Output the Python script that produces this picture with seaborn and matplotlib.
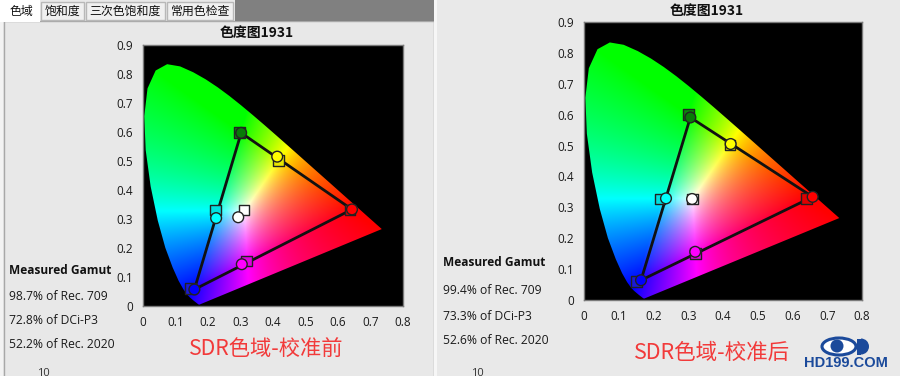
import matplotlib

matplotlib.use("Agg")
import matplotlib.pyplot as plt
import numpy as np
import pandas as pd
import seaborn as sns
from matplotlib.patches import Circle, Ellipse, Polygon, Rectangle, Wedge

W, H = 900, 376
CJK = ["Noto Sans CJK SC", "DejaVu Sans"]
LATIN = ["Open Sans", "DejaVu Sans"]

# CIE 1931 spectral locus, 380-700 nm
LOCUS_X = [0.1741, 0.1733, 0.1714, 0.1689, 0.1644, 0.1566, 0.1440, 0.1355, 0.1241, 0.1096,
           0.0913, 0.0687, 0.0454, 0.0235, 0.0082, 0.0039, 0.0139, 0.0389, 0.0743, 0.1142,
           0.1547, 0.1929, 0.2296, 0.2658, 0.3016, 0.3373, 0.3731, 0.4087, 0.4441, 0.4788,
           0.5125, 0.5448, 0.5752, 0.6029, 0.6270, 0.6482, 0.6658, 0.6915, 0.7079, 0.7190,
           0.7260, 0.7300, 0.7334, 0.7347]
LOCUS_Y = [0.0050, 0.0048, 0.0051, 0.0069, 0.0109, 0.0177, 0.0297, 0.0399, 0.0578, 0.0868,
           0.1327, 0.2007, 0.2950, 0.4127, 0.5384, 0.6548, 0.7502, 0.8120, 0.8338, 0.8262,
           0.8059, 0.7816, 0.7543, 0.7243, 0.6923, 0.6589, 0.6245, 0.5896, 0.5547, 0.5202,
           0.4866, 0.4544, 0.4242, 0.3965, 0.3725, 0.3514, 0.3340, 0.3083, 0.2920, 0.2809,
           0.2740, 0.2700, 0.2666, 0.2653]

X_TICKS = [0, 0.1, 0.2, 0.3, 0.4, 0.5, 0.6, 0.7, 0.8]
Y_TICKS = [0, 0.1, 0.2, 0.3, 0.4, 0.5, 0.6, 0.7, 0.8, 0.9]
X_LABELS = ["0", "0.1", "0.2", "0.3", "0.4", "0.5", "0.6", "0.7", "0.8"]
Y_LABELS = ["0", "0.1", "0.2", "0.3", "0.4", "0.5", "0.6", "0.7", "0.8", "0.9"]

PATCH_NAMES = ["green", "yellow", "red", "cyan", "white", "magenta", "blue"]
SQUARE_COLORS = ["#0a8a0a", "#e8e800", "#e00000", "#00e0e0", "#ffffff", "#e000e0", "#1a1ad8"]
CIRCLE_COLORS = ["#087a08", "#ffff00", "#ff0000", "#00ffff", "#ffffff", "#ff00ff", "#0000ff"]

# targets (squares) and measurements (circles), before calibration
BEFORE_TARGET_X = [0.296, 0.418, 0.637, 0.222, 0.311, 0.319, 0.147]
BEFORE_TARGET_Y = [0.599, 0.503, 0.331, 0.331, 0.331, 0.155, 0.061]
BEFORE_MEAS_X = [0.302, 0.413, 0.643, 0.225, 0.293, 0.304, 0.158]
BEFORE_MEAS_Y = [0.597, 0.515, 0.333, 0.303, 0.306, 0.144, 0.057]

# after calibration
AFTER_TARGET_X = [0.300, 0.420, 0.641, 0.219, 0.313, 0.321, 0.150]
AFTER_TARGET_Y = [0.600, 0.502, 0.328, 0.327, 0.327, 0.150, 0.061]
AFTER_MEAS_X = [0.306, 0.422, 0.658, 0.236, 0.311, 0.320, 0.164]
AFTER_MEAS_Y = [0.591, 0.505, 0.334, 0.329, 0.327, 0.156, 0.064]

BEFORE_STATS = ["98.7% of Rec. 709", "72.8% of DCi-P3", "52.2% of Rec. 2020"]
AFTER_STATS = ["99.4% of Rec. 709", "73.3% of DCi-P3", "52.6% of Rec. 2020"]
TABS = ["色域", "饱和度", "三次色饱和度", "常用色检查"]

RED_LABEL = "#f23a3a"
LOGO_BLUE = "#1b4a9b"


def chroma_image(n=500):
    xs = np.linspace(0, 0.8, n)
    ys = np.linspace(0.001, 0.9, n)
    x, y = np.meshgrid(xs, ys)
    X = x / y
    Z = (1 - x - y) / y
    r = 3.2406 * X - 1.5372 - 0.4986 * Z
    g = -0.9689 * X + 1.8758 + 0.0415 * Z
    b = 0.0557 * X - 0.2040 + 1.0570 * Z
    rgb = np.clip(np.dstack([r, g, b]), 0, None)
    rgb = rgb / np.maximum(rgb.max(axis=2, keepdims=True), 1e-9)
    return rgb ** 0.8


def fig_axes(fig, left, top, right, bottom):
    return fig.add_axes([left / W, 1 - bottom / H, (right - left) / W, (bottom - top) / H])


def draw_gamut(ax, tx, ty, mx, my, img):
    ax.set_facecolor("black")
    im = ax.imshow(img, extent=[0, 0.8, 0.001, 0.9], origin="lower", aspect="auto", zorder=0)
    im.set_clip_path(Polygon(np.column_stack([LOCUS_X, LOCUS_Y]), closed=True, transform=ax.transData))

    tri = pd.DataFrame({"x": [mx[0], mx[2], mx[6], mx[0]], "y": [my[0], my[2], my[6], my[0]]})
    sns.lineplot(data=tri, x="x", y="y", sort=False, estimator=None, color="#111111", lw=2, ax=ax, zorder=2)

    targets = pd.DataFrame({"x": tx, "y": ty, "patch": PATCH_NAMES})
    meas = pd.DataFrame({"x": mx, "y": my, "patch": PATCH_NAMES})
    sns.scatterplot(data=targets, x="x", y="y", hue="patch", palette=dict(zip(PATCH_NAMES, SQUARE_COLORS)),
                    marker="s", s=60, edgecolor="#222222", linewidth=1, legend=False, ax=ax, zorder=3)
    sns.scatterplot(data=meas, x="x", y="y", hue="patch", palette=dict(zip(PATCH_NAMES, CIRCLE_COLORS)),
                    marker="o", s=60, edgecolor="#222222", linewidth=1, legend=False, ax=ax, zorder=4)

    ax.set_xlim(0, 0.8)
    ax.set_ylim(0, 0.9)
    ax.set_xticks(X_TICKS, X_LABELS)
    ax.set_yticks(Y_TICKS, Y_LABELS)
    ax.set_xlabel("")
    ax.set_ylabel("")
    ax.grid(False)
    for sp in ax.spines.values():
        sp.set_color("#7a7a7a")
        sp.set_linewidth(1)
    ax.tick_params(length=5, width=1, color="#4a4a4a", labelsize=8.5, labelcolor="#1a1a1a", pad=2)
    for lab in ax.get_xticklabels() + ax.get_yticklabels():
        lab.set_family(LATIN)


def main():
    sns.set_style("white")
    plt.rcParams["font.family"] = LATIN

    fig = plt.figure(figsize=(W / 100, H / 100), dpi=100, facecolor="#e9e9e9")

    base = fig.add_axes([0, 0, 1, 1])
    base.set_xlim(0, W)
    base.set_ylim(H, 0)
    base.set_axis_off()
    base.set_zorder(0)

    # left window: tab strip and frame
    base.add_patch(Rectangle((0, 0), 3, H, facecolor="#f3f3f3", edgecolor="none"))
    base.add_patch(Rectangle((3.5, 21), 430, H, facecolor="#e8e8e8", edgecolor="#a8a8a8", lw=1))
    base.add_patch(Rectangle((235, 0), 199, 21, facecolor="#808080", edgecolor="none"))
    base.add_patch(Rectangle((434, 0), 3, H, facecolor="#f6f6f6", edgecolor="none"))
    tab_bounds = [(0, 40), (41, 84), (86, 165), (167, 233)]
    tab_centers = [21, 62, 125, 201]
    for i, ((a, b), c, name) in enumerate(zip(tab_bounds, tab_centers, TABS)):
        if i == 0:
            base.add_patch(Rectangle((a, 0), b - a, 21.5, facecolor="white", edgecolor="none"))
        else:
            base.add_patch(Rectangle((a, 2), b - a, 18, facecolor="#f0f0f0", edgecolor="#b8b8b8", lw=1))
        base.text(c, 11, name, ha="center", va="center", fontsize=8.6, family=CJK, color="#111111")

    # chart titles
    base.text(257, 33, "色度图1931", ha="center", va="center", fontsize=10, fontweight="bold", family=CJK, color="#111111")
    base.text(707, 11, "色度图1931", ha="center", va="center", fontsize=10, fontweight="bold", family=CJK, color="#111111")

    # measured gamut summaries
    for x0, ys, stats in [(9, [271, 297, 321, 345], BEFORE_STATS), (443, [263, 290, 316, 341], AFTER_STATS)]:
        base.text(x0, ys[0], "Measured Gamut", ha="left", va="center", fontsize=8.6, fontweight="bold",
                  family=LATIN, color="#111111")
        for yy, line in zip(ys[1:], stats):
            base.text(x0, yy, line, ha="left", va="center", fontsize=8.7, family=LATIN, color="#1a1a1a")

    base.text(266, 349, "SDR色域-校准前", ha="center", va="center", fontsize=15.3, family=CJK, color=RED_LABEL)
    base.text(712, 353, "SDR色域-校准后", ha="center", va="center", fontsize=15.5, family=CJK, color=RED_LABEL)

    # labels cut off at the bottom edge, as in the screenshot
    base.text(43, 368, "10", ha="center", va="top", fontsize=8, color="#333333")
    base.text(477, 368, "10", ha="center", va="top", fontsize=8, color="#333333")

    # HD199 logo
    base.add_patch(Ellipse((839, 346.5), 34, 17, facecolor="white", edgecolor=LOGO_BLUE, lw=2.2))
    base.add_patch(Circle((837, 346), 6.5, facecolor=LOGO_BLUE, edgecolor="none"))
    base.add_patch(Wedge((861, 346.5), 8, -90, 90, facecolor=LOGO_BLUE, edgecolor="none"))
    base.add_patch(Rectangle((857, 338.5), 4, 16, facecolor=LOGO_BLUE, edgecolor="none"))
    base.text(846, 363, "HD199.COM", ha="center", va="center", fontsize=10.5, fontweight="bold",
              family=["Liberation Sans", "DejaVu Sans"], color=LOGO_BLUE)

    img = chroma_image()
    ax_l = fig_axes(fig, 143, 45, 403, 306)
    ax_r = fig_axes(fig, 584, 22, 862, 300)
    for ax in (ax_l, ax_r):
        ax.set_zorder(1)
    draw_gamut(ax_l, BEFORE_TARGET_X, BEFORE_TARGET_Y, BEFORE_MEAS_X, BEFORE_MEAS_Y, img)
    draw_gamut(ax_r, AFTER_TARGET_X, AFTER_TARGET_Y, AFTER_MEAS_X, AFTER_MEAS_Y, img)

    fig.savefig("out.png", dpi=100, facecolor=fig.get_facecolor())
    plt.close(fig)


if __name__ == "__main__":
    main()
